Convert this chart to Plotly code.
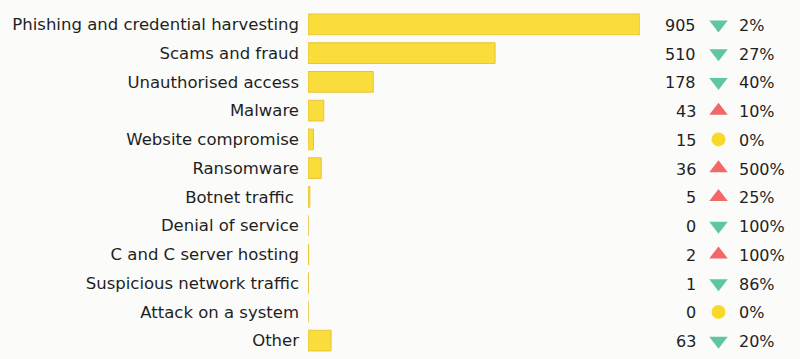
import plotly.graph_objects as go

categories = ["Phishing and credential harvesting", "Scams and fraud", "Unauthorised access",
              "Malware", "Website compromise", "Ransomware", "Botnet traffic ",
              "Denial of service", "C and C server hosting", "Suspicious network traffic",
              "Attack on a system", "Other"]
counts = [905, 510, 178, 43, 15, 36, 5, 0, 2, 1, 0, 63]
change_pct = [2, 27, 40, 10, 0, 500, 25, 100, 100, 86, 0, 20]
direction = ["down", "down", "down", "up", "flat", "up", "up", "down", "up", "down", "flat", "down"]

BG = "#fbfbf9"
TXT = "#1f1f1f"
sym_map = {"down": "triangle-down", "up": "triangle-up", "flat": "circle"}
col_map = {"down": "#5fc79d", "up": "#f26868", "flat": "#f8d92a"}

fig = go.Figure()
fig.add_trace(go.Bar(
    y=categories, x=counts, orientation="h",
    marker=dict(color="#f9dd3b", line=dict(color="#e8c43c", width=1)),
    width=0.72, xaxis="x", yaxis="y", hoverinfo="skip"))

fig.add_trace(go.Scatter(
    y=categories, x=[718.5] * len(categories), mode="markers", xaxis="x2", yaxis="y",
    marker=dict(symbol=[sym_map[d] for d in direction],
                color=[col_map[d] for d in direction],
                size=[16 if d != "flat" else 14 for d in direction], line=dict(width=0),
                opacity=1),
    hoverinfo="skip", cliponaxis=False))

font = "'DejaVu Sans', 'Noto Sans', sans-serif"
for c, v, p in zip(categories, counts, change_pct):
    fig.add_annotation(x=698, y=c, xref="x2", yref="y", text=str(v), showarrow=False,
                       xanchor="right", yanchor="middle", yshift=-1,
                       font=dict(size=16, color=TXT, family=font))
    fig.add_annotation(x=737, y=c, xref="x2", yref="y", text=f"{p}%", showarrow=False,
                       xanchor="left", yanchor="middle", yshift=-1,
                       font=dict(size=16, color=TXT, family=font))

W, H = 800, 359
L = 308
fig.update_layout(
    width=W, height=H, paper_bgcolor=BG, plot_bgcolor=BG,
    margin=dict(l=L, r=0, t=10, b=4, autoexpand=False),
    showlegend=False,
    font=dict(family=font, size=16, color=TXT),
    xaxis=dict(domain=[0, (640 - L) / (W - L)], range=[0, 905], visible=False, fixedrange=True,
               automargin=False),
    xaxis2=dict(domain=[(640 - L) / (W - L), 1], range=[640, 800], visible=False, anchor="y",
                automargin=False),
    yaxis=dict(autorange=False, range=[11.5, -0.5], showgrid=False, zeroline=False,
               showline=False, ticks="", ticklabelstandoff=8, automargin=False,
               tickfont=dict(size=16.5, color=TXT, family=font)),
)
fig.write_html("out.html", config={"displayModeBar": False},
               post_script="document.body.style.margin='0';document.body.style.background='" + BG + "';")
